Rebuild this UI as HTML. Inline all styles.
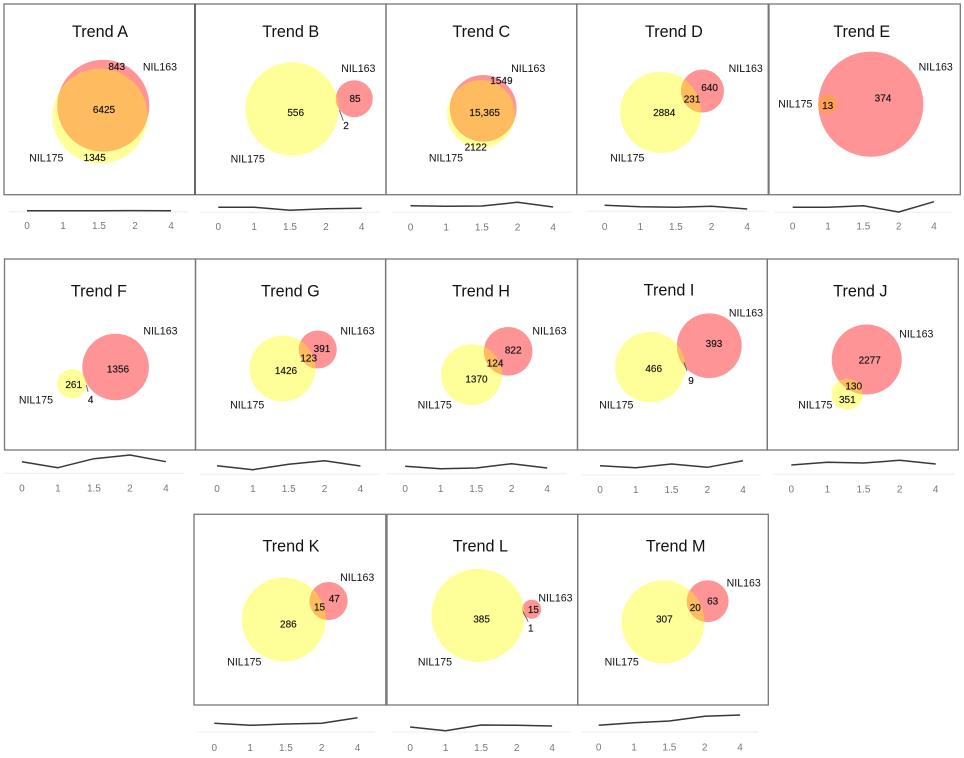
<!DOCTYPE html>
<html lang="en">
<head>
<meta charset="utf-8">
<title>Venn diagrams with trend sparklines</title>
<style>
html,body{margin:0;padding:0;background:#fff;width:964px;height:758px;overflow:hidden}
svg{display:block;font-family:"Liberation Sans",sans-serif;filter:blur(0.25px)}
text{text-anchor:middle;dominant-baseline:central}
.title{font-size:16.2px;fill:#111}
.set{font-size:10.6px;fill:#111}
.num{font-size:10px;fill:#111;stroke:#111;stroke-width:0.15px}
.tick{font-size:10px;fill:#777}
</style>
</head>
<body>
<svg id="chart" width="964" height="758" viewBox="0 0 964 758" xmlns="http://www.w3.org/2000/svg"></svg>
<script>
// ---------- data ----------
const trendNames = ['Trend A','Trend B','Trend C','Trend D','Trend E','Trend F','Trend G','Trend H','Trend I','Trend J','Trend K','Trend L','Trend M'];
const only163 = [843,85,1549,640,374,1356,391,822,393,2277,47,15,63];
const overlap = [6425,2,15365,231,13,4,123,124,9,130,15,1,20];
const only175 = [1345,556,2122,2884,0,261,1426,1370,466,351,286,385,307];
const tickLabels = ['0','1','1.5','2','4'];
const trendA = [0.5,0.5,0.5,0.55,0.5];
const trendB = [2.5,2.5,1,1.8,2];
const trendC = [3.3,3,3.15,5,2.65];
const trendD = [3,2.3,2,2.5,1.15];
const trendE = [2.5,2.5,3.3,0.15,5.3];
const trendF = [5.8,2.8,7.3,9.15,5.8];
const trendG = [4.3,2.3,5,6.8,4.15];
const trendH = [3.7,2.5,2.85,5,2.85];
const trendI = [4.65,3.65,5.5,3.85,7.15];
const trendJ = [4.65,6,5.65,7,5.15];
const trendK = [4.35,3.35,4,4.35,7.15];
const trendL = [2.5,0.65,3.5,3.35,3];
const trendM = [3.35,4.65,5.5,7.85,8.5];
const trendSeries = [trendA,trendB,trendC,trendD,trendE,trendF,trendG,trendH,trendI,trendJ,trendK,trendL,trendM];

// ---------- layout (geometry only) ----------
const layout = [
 {f:[4,195,4,194.7],t:[100,32],c3:[103.3,105.7],c5:[100,116],k:.539,l3:[116.7,67.3],lo:[104,110.7],l5:[94.7,158.7],n3:[160,67.7],n5:[46.3,158.3],s:[27,36,211.7,226.7,9.3,188]},
 {f:[195,386,4,194.7],t:[290.7,32],c3:[354.3,98.7],c5:[292,109],k:1.977,l3:[355,99.7],lo:[346,126.3],l5:[295.7,113.7],n3:[358.3,69],n5:[247.7,159.7],s:[218.3,35.85,212.3,227.7,200,380],lead:[339.3,110,343.3,120.7]},
 {f:[386,576.8,4,194.7],t:[481.3,32],c3:[483.2,108.3],c5:[481,114],k:.2564,l3:[501.4,81.7],lo:[484.7,113.3],l5:[475.7,148],n3:[528.2,69],n5:[446,158.7],s:[410.5,35.66,212.3,228,391.9,571.8]},
 {f:[576.8,768.2,4,194.7],t:[673.9,32],c3:[702.5,91],c5:[660.6,112.3],k:.7276,l3:[709.6,88.7],lo:[692.1,100],l5:[664.2,113.3],n3:[745.7,69],n5:[627.3,158.3],s:[604.6,35.65,211.3,227.3,586.7,765.5]},
 {f:[769,960.3,4,194.7],t:[861.7,32],c3:[870.8,104.2],c5:[827.7,104.3],k:2.67,l3:[883,99],lo:[827.7,106.7],l5:[0,0],n3:[935.7,67.3],n5:[795.3,104.7],s:[792.7,35.33,212.3,227,774.8,951.7],lens:'#fd9f55'},
 {f:[4.5,195.5,259,450],t:[98.9,291.7],c3:[115.6,367],c5:[71.9,383.7],k:.903,l3:[118,370],lo:[90.7,400.3],l5:[73.7,385.3],n3:[160.4,331.3],n5:[35.9,400.3],s:[21.9,36,473.3,489,3.7,184],lead:[86.3,385,88.1,391.7]},
 {f:[195.5,385.6,259,450],t:[290.4,291.7],c3:[317.8,349.5],c5:[282.6,368.5],k:.8385,l3:[322,349.7],lo:[308.7,359],l5:[286,371.7],n3:[357.4,331.3],n5:[247.2,405.3],s:[217,35.85,474.3,489.7,199.3,379.3]},
 {f:[385.6,577.5,259,450],t:[481,291.7],c3:[508.2,351.3],c5:[471.5,374.7],k:.789,l3:[513.2,351],lo:[495.1,364],l5:[476.5,380],n3:[549.5,331.3],n5:[434.7,405.3],s:[405.2,35.5,473.7,489.3,386.6,566.3]},
 {f:[577.5,767.3,259,450],t:[669,290.7],c3:[709.3,345.7],c5:[650.2,367.2],k:1.615,l3:[714,344.7],lo:[691,381.3],l5:[653.7,369.7],n3:[746,313.7],n5:[616.3,405.3],s:[600,35.75,475,490.3,582,761],lead:[684,362.3,687,371]},
 {f:[767.3,958.3,259,450],t:[860.3,291.7],c3:[866.7,359.5],c5:[847,394.2],k:.7134,l3:[869.7,361],lo:[853.7,387],l5:[847.3,400.3],n3:[916.3,334.3],n5:[815.3,405.3],s:[791.3,36.1,474.3,490,773.3,954]},
 {f:[194,385.8,514.3,705],t:[291,546.3],c3:[328.6,601],c5:[283.8,619.5],k:2.42,l3:[334.3,599.7],lo:[319.5,608],l5:[288.4,625],n3:[357.2,578],n5:[244.3,662.3],s:[214.3,35.8,732,748.3,196.7,375]},
 {f:[387,577.7,514.3,705],t:[480.4,546.3],c3:[531.7,609.2],c5:[478,615.3],k:2.372,l3:[533.4,610.7],lo:[530.8,629],l5:[481.6,620],n3:[555.5,598.3],n5:[434.9,662.3],s:[410.1,35.5,732,748.3,392.7,571.1],lead:[523,611.7,528.2,621.7]},
 {f:[577.7,768.3,514.3,705],t:[675.7,546.7],c3:[707.7,601.2],c5:[663,622],k:2.295,l3:[712.7,602],lo:[695.3,608.7],l5:[664.3,620],n3:[743.7,583.7],n5:[621.7,662.3],s:[598.7,35.33,732,748,581.7,758.3]}
];

// ---------- helpers ----------
const NS = 'http://www.w3.org/2000/svg';
const root = document.getElementById('chart');
function make(parent, tag) {
  const el = document.createElementNS(NS, tag);
  parent.appendChild(el);
  return el;
}
function put(el, props) {
  Object.keys(props).forEach(function (key) { el.setAttribute(key, props[key]); });
  return el;
}
function label(parent, pos, str, cls) {
  const el = make(parent, 'text');
  put(el, {x: pos[0], y: pos[1], class: cls});
  el.textContent = str;
  return el;
}
function fmt(v) { return v >= 10000 ? v.toLocaleString('en-US') : String(v); }
function radius(total, k) { return k * Math.sqrt(total); }
function sparkX(s, i) { return s[0] + i * s[1]; }
function sparkY(s, v) { return s[2] - v * 2; }

// ---------- draw ----------
trendNames.forEach(function (name, i) {
  const L = layout[i];
  const g = make(root, 'g');
  
  

  const r3 = radius(only163[i] + overlap[i], L.k);
  const r5 = radius(only175[i] + overlap[i], L.k);

  const frame = make(g, 'rect');
  
  
  put(frame, {x: L.f[0], y: L.f[2], width: L.f[1] - L.f[0], height: L.f[3] - L.f[2], fill: 'none', stroke: '#777777', 'stroke-width': 1.3});

  const clip = make(g, 'clipPath');
  clip.setAttribute('id', 'clip-' + i);
  const clipC = make(clip, 'circle');
  put(clipC, {cx: L.c5[0], cy: L.c5[1], r: r5});

  const c5 = make(g, 'circle');
  
  
  put(c5, {cx: L.c5[0], cy: L.c5[1], r: r5, fill: '#ffff99'});

  const c3 = make(g, 'circle');
  
  
  put(c3, {cx: L.c3[0], cy: L.c3[1], r: r3, fill: '#fe9496'});

  const lens = make(g, 'circle');
  
  
  put(lens, {cx: L.c3[0], cy: L.c3[1], r: r3, fill: L.lens || '#ffbb5f', 'clip-path': 'url(#clip-' + i + ')'});

  if (L.lead) {
    const lead = make(g, 'line');
    
    
    put(lead, {x1: L.lead[0], y1: L.lead[1], x2: L.lead[2], y2: L.lead[3], stroke: '#555', 'stroke-width': 0.9});
  }

  const title = label(g, L.t, name, 'title');
  
  

  const n3 = label(g, L.n3, 'NIL163', 'set');
  
  

  const n5 = label(g, L.n5, 'NIL175', 'set');
  
  

  const v3 = label(g, L.l3, fmt(only163[i]), 'num');
  
  

  const vo = label(g, L.lo, fmt(overlap[i]), 'num');
  
  

  if (only175[i] > 0) {
    const v5 = label(g, L.l5, fmt(only175[i]), 'num');
    
    
  }

  const s = L.s;
  const axis = make(g, 'line');
  
  
  put(axis, {x1: s[4], y1: s[2], x2: s[5], y2: s[2], stroke: '#eeeeee', 'stroke-width': 1});

  const values = trendSeries[i];
  const pts = values.map(function (v, j) { return sparkX(s, j).toFixed(1) + ',' + sparkY(s, v).toFixed(1); }).join(' ');
  const line = make(g, 'polyline');
  
  
  put(line, {points: pts, fill: 'none', stroke: '#383838', 'stroke-width': 1.5, 'stroke-linejoin': 'round'});

  tickLabels.forEach(function (tick, j) {
    const t = label(g, [sparkX(s, j), s[3]], tick, 'tick');
    
    
  });
});

const divider = make(root, 'line');


put(divider, {x1: 195, y1: 4, x2: 195, y2: 194.7, stroke: '#333333', 'stroke-width': 1.2});
</script>
</body>
</html>
